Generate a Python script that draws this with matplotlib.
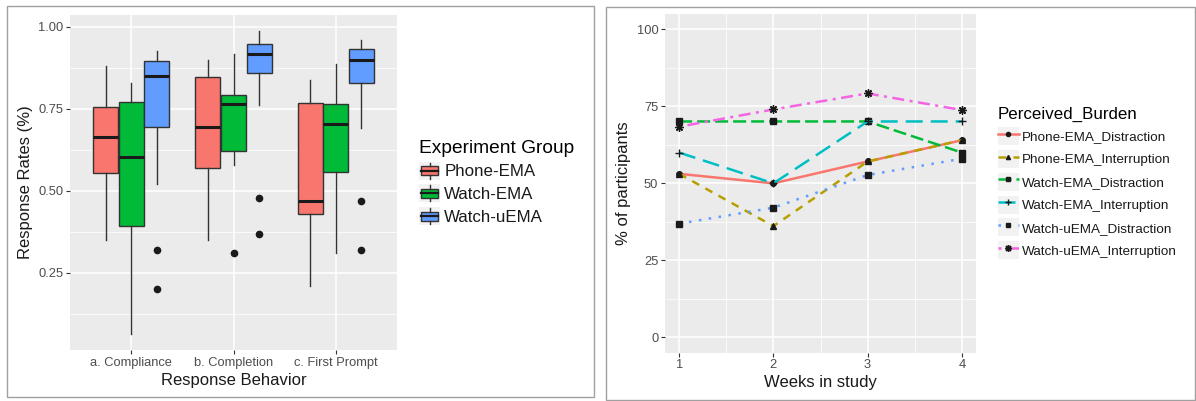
import matplotlib
matplotlib.use("Agg")
from matplotlib import pyplot as plt
from matplotlib.patches import Rectangle
from matplotlib.lines import Line2D
from matplotlib.legend_handler import HandlerBase, HandlerLine2D

plt.rcParams['font.family'] = ['Liberation Sans', 'DejaVu Sans']

# ---- left panel data: box summaries (whisker low, Q1, median, Q3, whisker high)
categories = ['a. Compliance', 'b. Completion', 'c. First Prompt']
groups = ['Phone-EMA', 'Watch-EMA', 'Watch-uEMA']
group_colors = ['#F8766D', '#00BA38', '#619CFF']

phone_ema = [[0.35, 0.553, 0.664, 0.756, 0.879],
             [0.35, 0.570, 0.694, 0.846, 0.897],
             [0.211, 0.430, 0.469, 0.769, 0.837]]
watch_ema = [[0.063, 0.392, 0.604, 0.771, 0.829],
             [0.580, 0.622, 0.763, 0.791, 0.917],
             [0.311, 0.556, 0.705, 0.766, 0.887]]
watch_uema = [[0.521, 0.694, 0.849, 0.894, 0.927],
              [0.760, 0.859, 0.918, 0.948, 0.987],
              [0.691, 0.829, 0.898, 0.933, 0.958]]
phone_outliers = [[], [], []]
watch_outliers = [[], [0.31], []]
uema_outliers = [[0.32, 0.20], [0.479, 0.369], [0.469, 0.32]]

# ---- right panel data
weeks = [1, 2, 3, 4]
burden_names = ['Phone-EMA_Distraction', 'Phone-EMA_Interruption',
                'Watch-EMA_Distraction', 'Watch-EMA_Interruption',
                'Watch-uEMA_Distraction', 'Watch-uEMA_Interruption']
phone_distraction = [53.1, 50.0, 57.1, 64.0]
phone_interruption = [53.1, 36.1, 57.1, 64.0]
watch_distraction = [70.1, 70.1, 70.1, 60.0]
watch_interruption = [60.0, 50.0, 70.1, 70.1]
uema_distraction = [36.9, 42.1, 52.7, 58.0]
uema_interruption = [68.4, 74.0, 79.2, 73.8]

line_colors = ['#F8766D', '#B79F00', '#00BA38', '#00BFC4', '#619CFF', '#F564E3']
line_dashes = [None, (3.2, 2.8), (5.2, 2.0), (6.8, 3.2), (1.0, 3.0), (1.2, 2.2, 4.8, 2.2)]
line_markers = ['o', '^', 's', '+', 's', (8, 2, 0)]

PANEL = '#EBEBEB'
TICKC = '#4D4D4D'

fig = plt.figure(figsize=(11.96, 4.01), dpi=100)


def style_axes(ax):
    ax.set_facecolor(PANEL)
    for s in ax.spines.values():
        s.set_visible(False)
    ax.grid(True, which='major', color='white', lw=1.1)
    ax.grid(True, which='minor', color='white', lw=0.55)
    ax.set_axisbelow(True)
    ax.tick_params(which='major', length=2.75, width=0.8, color='#333333',
                   labelcolor=TICKC, labelsize=9.3, pad=2)
    ax.tick_params(which='minor', length=0)


# ---------------- left: box plot ----------------
ax1 = fig.add_axes([70 / 1196, 1 - 350 / 401, 327 / 1196, 335 / 401])
style_axes(ax1)

all_stats = [phone_ema, watch_ema, watch_uema]
all_out = [phone_outliers, watch_outliers, uema_outliers]
offsets = [-0.25, 0.0, 0.25]
for g in range(3):
    stats = []
    for c in range(3):
        lo, q1, med, q3, hi = all_stats[g][c]
        stats.append(dict(whislo=lo, q1=q1, med=med, q3=q3, whishi=hi,
                          fliers=all_out[g][c]))
    pos = [c + 1 + offsets[g] for c in range(3)]
    ax1.bxp(stats, positions=pos, widths=0.245, patch_artist=True,
            showcaps=False, manage_ticks=False,
            boxprops=dict(facecolor=group_colors[g], edgecolor='#333333', lw=1.0),
            medianprops=dict(color='#1A1A1A', lw=2.2),
            whiskerprops=dict(color='#333333', lw=1.0),
            flierprops=dict(marker='o', markerfacecolor='#1A1A1A',
                            markeredgecolor='#1A1A1A', markersize=4.5))

ax1.set_xlim(0.4, 3.6)
ax1.set_ylim(0.0155, 1.0355)
ax1.set_xticks([1, 2, 3])
ax1.set_xticklabels(categories)
ax1.set_yticks([0.25, 0.5, 0.75, 1.0])
ax1.set_yticklabels(['0.25', '0.50', '0.75', '1.00'])
ax1.set_yticks([0.125, 0.375, 0.625, 0.875], minor=True)
ax1.set_xlabel('Response Behavior', fontsize=12, color='#1A1A1A', labelpad=3)
ax1.set_ylabel('Response Rates (%)', fontsize=12, color='#1A1A1A', labelpad=4)


class BoxKey(HandlerBase):
    def create_artists(self, legend, orig, xd, yd, w, h, fontsize, trans):
        x0, y0 = -xd, -yd
        bg = Rectangle((x0, y0), w, h, facecolor='#F2F2F2', edgecolor='none',
                       transform=trans)
        box = Rectangle((x0 + 0.1 * w, y0 + 0.25 * h), 0.8 * w, 0.5 * h,
                        facecolor=orig.get_facecolor(), edgecolor='#333333',
                        lw=1.0, transform=trans)
        med = Line2D([x0 + 0.1 * w, x0 + 0.9 * w], [y0 + 0.5 * h] * 2,
                     color='#1A1A1A', lw=1.6, transform=trans)
        wt = Line2D([x0 + 0.5 * w] * 2, [y0 + 0.75 * h, y0 + 0.95 * h],
                    color='#333333', lw=1.0, transform=trans)
        wb = Line2D([x0 + 0.5 * w] * 2, [y0 + 0.05 * h, y0 + 0.25 * h],
                    color='#333333', lw=1.0, transform=trans)
        return [bg, box, med, wt, wb]


box_handles = [Rectangle((0, 0), 1, 1, facecolor=c) for c in group_colors]
leg1 = fig.legend(box_handles, groups, loc='upper left',
                  bbox_to_anchor=(419 / 1196, 1 - 140 / 401),
                  frameon=False, fontsize=12.2, title='Experiment Group',
                  title_fontsize=13.8, alignment='left', borderpad=0,
                  borderaxespad=0, handlelength=1.25, handleheight=1.25,
                  labelspacing=0.28, handletextpad=0.25,
                  handler_map={Rectangle: BoxKey()})
for t in leg1.get_texts():
    t.set_color('#1A1A1A')

# ---------------- right: line chart ----------------
ax2 = fig.add_axes([665 / 1196, 1 - 352.7 / 401, 311 / 1196, 338.7 / 401])
style_axes(ax2)

series = [phone_distraction, phone_interruption, watch_distraction,
          watch_interruption, uema_distraction, uema_interruption]
line_handles = []
for vals, name, col, dash, mk in zip(series, burden_names, line_colors,
                                     line_dashes, line_markers):
    ln, = ax2.plot(weeks, vals, color=col, lw=1.8, label=name)
    if dash is not None:
        ln.set_dashes(dash)
    ms = 6 if mk in ('+', (8, 2, 0)) else 4
    ax2.plot(weeks, vals, ls='none', marker=mk, color='#1A1A1A',
             markersize=ms, mew=1.0)
    h = Line2D([0], [0], color=col, lw=1.8, marker=mk, markersize=ms - 1,
               markerfacecolor='#1A1A1A', markeredgecolor='#1A1A1A', mew=1.0)
    if dash is not None:
        h.set_dashes(dash)
    line_handles.append(h)

ax2.set_xlim(0.85, 4.15)
ax2.set_ylim(-5, 105)
ax2.set_xticks(weeks)
ax2.set_xticks([1.5, 2.5, 3.5], minor=True)
ax2.set_yticks([0, 25, 50, 75, 100])
ax2.set_yticks([12.5, 37.5, 62.5, 87.5], minor=True)
ax2.set_xlabel('Weeks in study', fontsize=12, color='#1A1A1A', labelpad=3)
ax2.set_ylabel('% of participants', fontsize=12, color='#1A1A1A', labelpad=4)


class LineKey(HandlerLine2D):
    def create_artists(self, legend, orig, xd, yd, w, h, fontsize, trans):
        bg = Rectangle((-xd, -yd), w, h, facecolor='#F2F2F2',
                       edgecolor='none', transform=trans)
        arts = super().create_artists(legend, orig, xd, yd, w, h, fontsize, trans)
        return [bg] + list(arts)


leg2 = fig.legend(line_handles, burden_names, loc='upper left',
                  bbox_to_anchor=(998 / 1196, 1 - 107 / 401),
                  frameon=False, fontsize=9.7, title='Perceived_Burden',
                  title_fontsize=12.2, alignment='left', borderpad=0,
                  borderaxespad=0, handlelength=1.53, handleheight=1.68,
                  labelspacing=0.36, handletextpad=0.25,
                  handler_map={Line2D: LineKey(numpoints=1)})
for t in leg2.get_texts():
    t.set_color('#1A1A1A')

# panel frames
fig.patches.append(Rectangle((7 / 1196, 1 - 397 / 401), 587 / 1196, 391 / 401,
                             transform=fig.transFigure, fill=False,
                             edgecolor='#A0A0A0', lw=1.0))
fig.patches.append(Rectangle((606 / 1196, 1 - 400 / 401), 589 / 1196, 393 / 401,
                             transform=fig.transFigure, fill=False,
                             edgecolor='#A0A0A0', lw=1.0))

fig.savefig('out.png', dpi=100)
